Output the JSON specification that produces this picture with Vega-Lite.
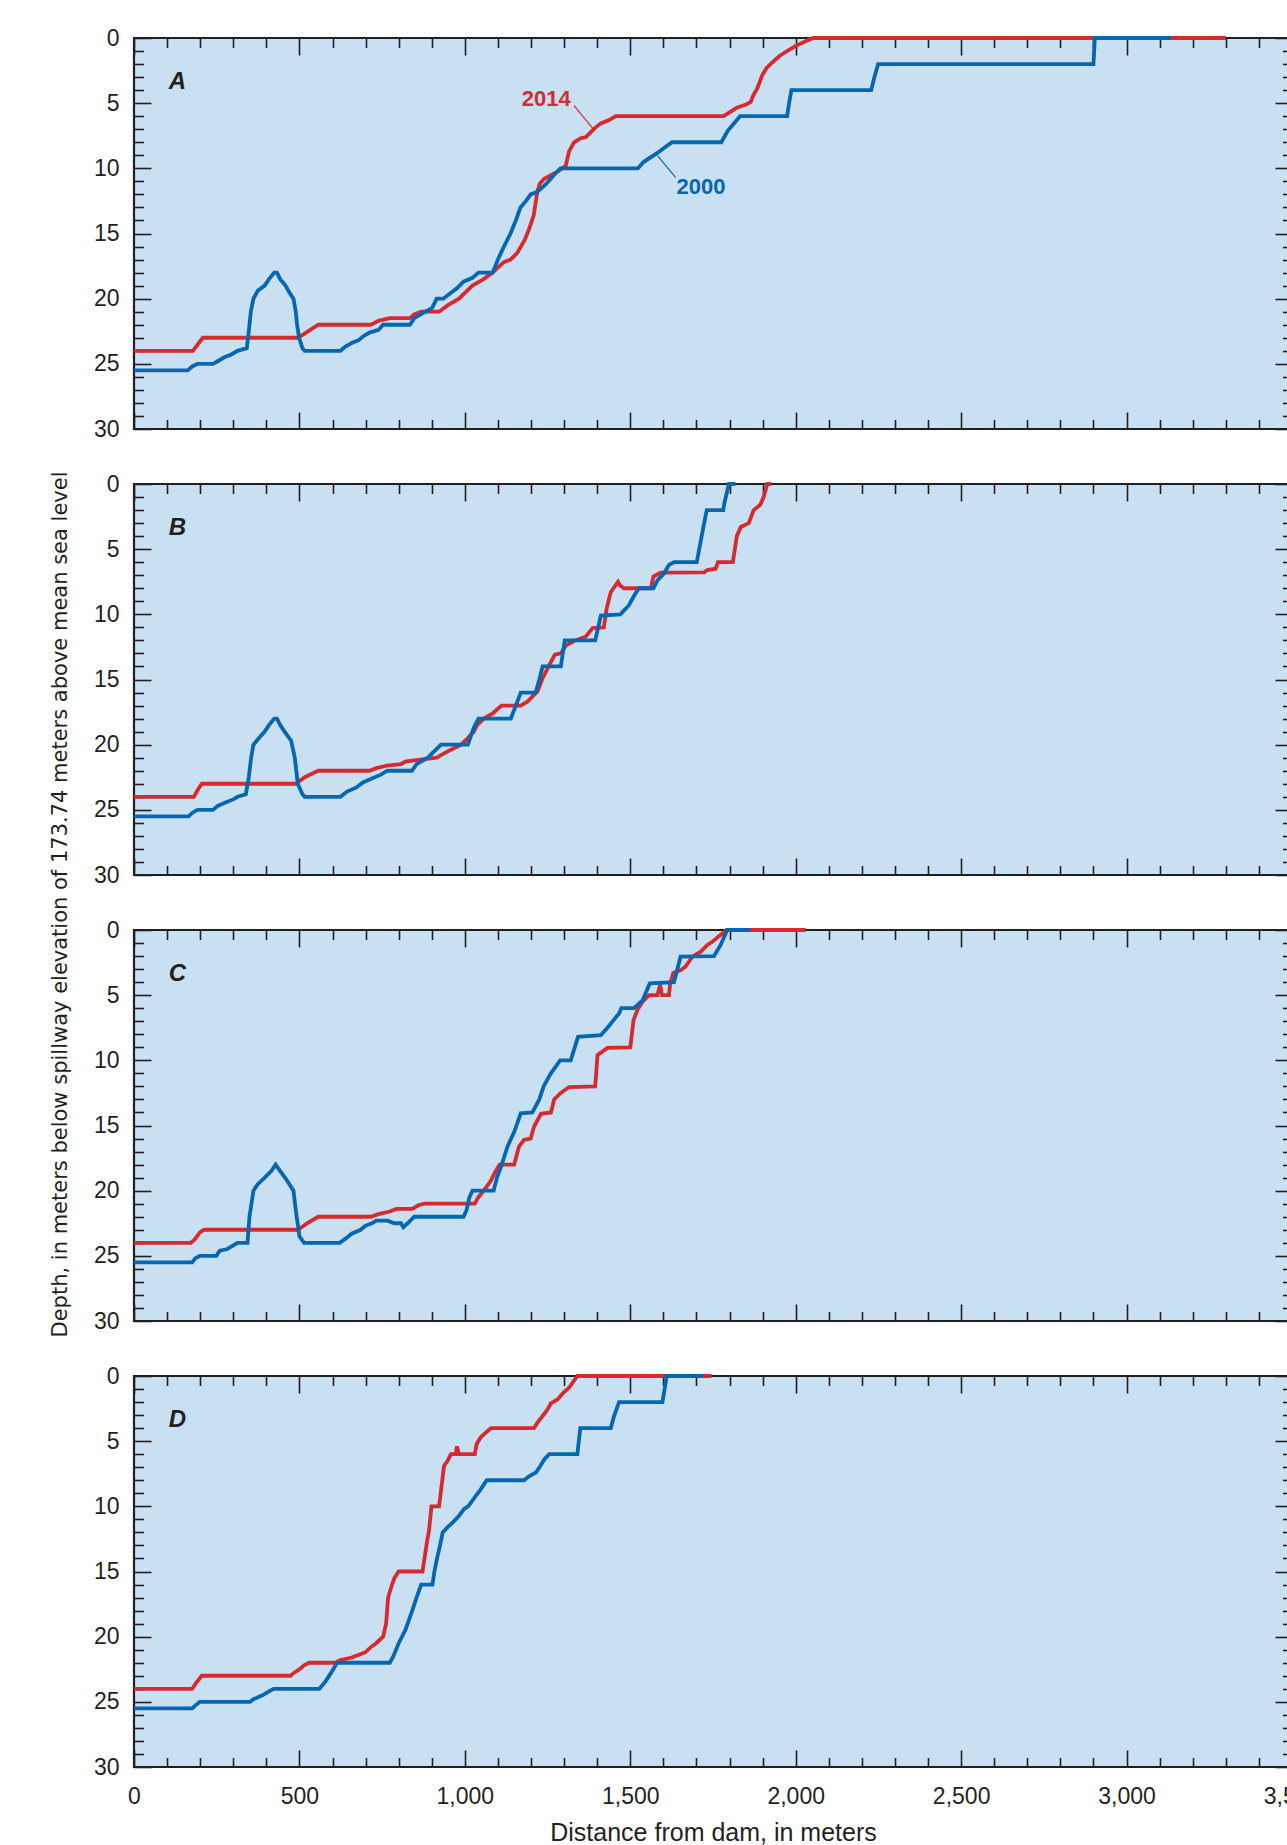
{
"$schema": "https://vega.github.io/schema/vega-lite/v6.json",
"background": "white",
"padding": {"left": 47, "top": 25, "right": 0, "bottom": 0},
"spacing": 55,
"bounds": "flush",
"config": {
  "view": {"fill": "#c9e0f3", "stroke": "#231f20", "strokeWidth": 2.2},
  "axis": {"domain": false, "grid": false, "tickColor": "#231f20", "tickWidth": 1.6, "labelFont": "Liberation Sans", "labelFontSize": 23, "labelColor": "#231f20", "labelOverlap": false, "labelFlush": false, "titleColor": "#231f20", "titleFontWeight": "normal"}
},
"datasets": {
"letters": [{"p":"A","x":131,"d":3.4},{"p":"B","x":131,"d":3.4},{"p":"C","x":131,"d":3.4},{"p":"D","x":131,"d":3.4}],
"notes": [{"s":"2014","x":1246,"d":4.7,"x1":1330,"d1":5.18,"x2":1386,"d2":6.92},{"s":"2000","x":1714,"d":11.45,"x1":1582,"d1":9.02,"x2":1637,"d2":10.7}],
"lines": [
{"p":"A","s":"2014","x":0,"d":24},{"p":"A","s":"2014","x":178,"d":24},{"p":"A","s":"2014","x":208,"d":23},{"p":"A","s":"2014","x":496,"d":23},{"p":"A","s":"2014","x":557,"d":22},{"p":"A","s":"2014","x":716,"d":22},{"p":"A","s":"2014","x":739,"d":21.7},{"p":"A","s":"2014","x":773,"d":21.5},{"p":"A","s":"2014","x":834,"d":21.5},{"p":"A","s":"2014","x":847,"d":21.2},{"p":"A","s":"2014","x":868,"d":21},{"p":"A","s":"2014","x":922,"d":21},{"p":"A","s":"2014","x":949,"d":20.5},{"p":"A","s":"2014","x":982,"d":20},{"p":"A","s":"2014","x":1023,"d":19},{"p":"A","s":"2014","x":1057,"d":18.5},{"p":"A","s":"2014","x":1084,"d":18},{"p":"A","s":"2014","x":1118,"d":17.2},{"p":"A","s":"2014","x":1138,"d":17},{"p":"A","s":"2014","x":1158,"d":16.5},{"p":"A","s":"2014","x":1181,"d":15.5},{"p":"A","s":"2014","x":1195,"d":14.6},{"p":"A","s":"2014","x":1208,"d":13.6},{"p":"A","s":"2014","x":1219,"d":11.8},{"p":"A","s":"2014","x":1226,"d":11.2},{"p":"A","s":"2014","x":1240,"d":10.8},{"p":"A","s":"2014","x":1280,"d":10.25},{"p":"A","s":"2014","x":1305,"d":9.8},{"p":"A","s":"2014","x":1315,"d":8.7},{"p":"A","s":"2014","x":1330,"d":8},{"p":"A","s":"2014","x":1350,"d":7.7},{"p":"A","s":"2014","x":1366,"d":7.6},{"p":"A","s":"2014","x":1391,"d":6.95},{"p":"A","s":"2014","x":1411,"d":6.55},{"p":"A","s":"2014","x":1436,"d":6.3},{"p":"A","s":"2014","x":1456,"d":6},{"p":"A","s":"2014","x":1782,"d":6},{"p":"A","s":"2014","x":1800,"d":5.7},{"p":"A","s":"2014","x":1822,"d":5.35},{"p":"A","s":"2014","x":1850,"d":5.1},{"p":"A","s":"2014","x":1864,"d":4.9},{"p":"A","s":"2014","x":1872,"d":4.4},{"p":"A","s":"2014","x":1884,"d":3.85},{"p":"A","s":"2014","x":1899,"d":2.85},{"p":"A","s":"2014","x":1912,"d":2.3},{"p":"A","s":"2014","x":1928,"d":1.9},{"p":"A","s":"2014","x":1950,"d":1.4},{"p":"A","s":"2014","x":1974,"d":1},{"p":"A","s":"2014","x":2000,"d":0.6},{"p":"A","s":"2014","x":2030,"d":0.25},{"p":"A","s":"2014","x":2053,"d":0},{"p":"A","s":"2014","x":3300,"d":0},
{"p":"A","s":"2000","x":0,"d":25.5},{"p":"A","s":"2000","x":162,"d":25.5},{"p":"A","s":"2000","x":176,"d":25.2},{"p":"A","s":"2000","x":192,"d":25},{"p":"A","s":"2000","x":239,"d":25},{"p":"A","s":"2000","x":253,"d":24.8},{"p":"A","s":"2000","x":273,"d":24.5},{"p":"A","s":"2000","x":293,"d":24.3},{"p":"A","s":"2000","x":313,"d":24},{"p":"A","s":"2000","x":341,"d":23.8},{"p":"A","s":"2000","x":347,"d":22.5},{"p":"A","s":"2000","x":353,"d":21},{"p":"A","s":"2000","x":361,"d":20},{"p":"A","s":"2000","x":374,"d":19.4},{"p":"A","s":"2000","x":395,"d":19},{"p":"A","s":"2000","x":408,"d":18.5},{"p":"A","s":"2000","x":424,"d":18},{"p":"A","s":"2000","x":432,"d":18},{"p":"A","s":"2000","x":442,"d":18.5},{"p":"A","s":"2000","x":458,"d":19},{"p":"A","s":"2000","x":469,"d":19.5},{"p":"A","s":"2000","x":482,"d":20},{"p":"A","s":"2000","x":489,"d":21},{"p":"A","s":"2000","x":493,"d":22},{"p":"A","s":"2000","x":499,"d":23},{"p":"A","s":"2000","x":509,"d":23.8},{"p":"A","s":"2000","x":516,"d":24},{"p":"A","s":"2000","x":624,"d":24},{"p":"A","s":"2000","x":638,"d":23.7},{"p":"A","s":"2000","x":658,"d":23.4},{"p":"A","s":"2000","x":678,"d":23.2},{"p":"A","s":"2000","x":692,"d":22.9},{"p":"A","s":"2000","x":712,"d":22.6},{"p":"A","s":"2000","x":739,"d":22.4},{"p":"A","s":"2000","x":753,"d":22},{"p":"A","s":"2000","x":834,"d":22},{"p":"A","s":"2000","x":847,"d":21.5},{"p":"A","s":"2000","x":881,"d":21},{"p":"A","s":"2000","x":901,"d":20.7},{"p":"A","s":"2000","x":915,"d":20},{"p":"A","s":"2000","x":935,"d":20},{"p":"A","s":"2000","x":955,"d":19.6},{"p":"A","s":"2000","x":976,"d":19.2},{"p":"A","s":"2000","x":996,"d":18.7},{"p":"A","s":"2000","x":1023,"d":18.4},{"p":"A","s":"2000","x":1041,"d":18},{"p":"A","s":"2000","x":1084,"d":18},{"p":"A","s":"2000","x":1100,"d":17},{"p":"A","s":"2000","x":1118,"d":16},{"p":"A","s":"2000","x":1138,"d":15},{"p":"A","s":"2000","x":1154,"d":14},{"p":"A","s":"2000","x":1168,"d":13},{"p":"A","s":"2000","x":1185,"d":12.5},{"p":"A","s":"2000","x":1199,"d":12},{"p":"A","s":"2000","x":1219,"d":11.8},{"p":"A","s":"2000","x":1246,"d":11.2},{"p":"A","s":"2000","x":1266,"d":10.6},{"p":"A","s":"2000","x":1289,"d":10},{"p":"A","s":"2000","x":1523,"d":10},{"p":"A","s":"2000","x":1541,"d":9.5},{"p":"A","s":"2000","x":1583,"d":8.8},{"p":"A","s":"2000","x":1626,"d":8},{"p":"A","s":"2000","x":1775,"d":8},{"p":"A","s":"2000","x":1795,"d":7.1},{"p":"A","s":"2000","x":1832,"d":6},{"p":"A","s":"2000","x":1974,"d":6},{"p":"A","s":"2000","x":1980,"d":5},{"p":"A","s":"2000","x":1987,"d":4},{"p":"A","s":"2000","x":2228,"d":4},{"p":"A","s":"2000","x":2238,"d":3},{"p":"A","s":"2000","x":2249,"d":2},{"p":"A","s":"2000","x":2900,"d":2},{"p":"A","s":"2000","x":2902,"d":1},{"p":"A","s":"2000","x":2904,"d":0},{"p":"A","s":"2000","x":3133,"d":0},
{"p":"B","s":"2014","x":0,"d":24},{"p":"B","s":"2014","x":181,"d":24},{"p":"B","s":"2014","x":192,"d":23.5},{"p":"B","s":"2014","x":205,"d":23},{"p":"B","s":"2014","x":489,"d":23},{"p":"B","s":"2014","x":516,"d":22.5},{"p":"B","s":"2014","x":557,"d":22},{"p":"B","s":"2014","x":712,"d":22},{"p":"B","s":"2014","x":732,"d":21.8},{"p":"B","s":"2014","x":766,"d":21.6},{"p":"B","s":"2014","x":807,"d":21.5},{"p":"B","s":"2014","x":820,"d":21.3},{"p":"B","s":"2014","x":847,"d":21.2},{"p":"B","s":"2014","x":915,"d":21},{"p":"B","s":"2014","x":949,"d":20.5},{"p":"B","s":"2014","x":989,"d":20},{"p":"B","s":"2014","x":1009,"d":19.5},{"p":"B","s":"2014","x":1027,"d":19},{"p":"B","s":"2014","x":1037,"d":18.5},{"p":"B","s":"2014","x":1057,"d":18},{"p":"B","s":"2014","x":1084,"d":17.6},{"p":"B","s":"2014","x":1097,"d":17.3},{"p":"B","s":"2014","x":1111,"d":17},{"p":"B","s":"2014","x":1169,"d":17},{"p":"B","s":"2014","x":1189,"d":16.7},{"p":"B","s":"2014","x":1220,"d":15.9},{"p":"B","s":"2014","x":1235,"d":14.9},{"p":"B","s":"2014","x":1255,"d":13.9},{"p":"B","s":"2014","x":1272,"d":13.1},{"p":"B","s":"2014","x":1290,"d":13},{"p":"B","s":"2014","x":1305,"d":12.4},{"p":"B","s":"2014","x":1334,"d":12},{"p":"B","s":"2014","x":1366,"d":11.7},{"p":"B","s":"2014","x":1386,"d":11.05},{"p":"B","s":"2014","x":1420,"d":11},{"p":"B","s":"2014","x":1429,"d":9.5},{"p":"B","s":"2014","x":1441,"d":8.3},{"p":"B","s":"2014","x":1456,"d":7.75},{"p":"B","s":"2014","x":1463,"d":7.5},{"p":"B","s":"2014","x":1470,"d":7.8},{"p":"B","s":"2014","x":1481,"d":8},{"p":"B","s":"2014","x":1562,"d":8},{"p":"B","s":"2014","x":1570,"d":7.1},{"p":"B","s":"2014","x":1592,"d":6.8},{"p":"B","s":"2014","x":1723,"d":6.78},{"p":"B","s":"2014","x":1733,"d":6.6},{"p":"B","s":"2014","x":1758,"d":6.5},{"p":"B","s":"2014","x":1765,"d":6},{"p":"B","s":"2014","x":1810,"d":6},{"p":"B","s":"2014","x":1822,"d":4},{"p":"B","s":"2014","x":1834,"d":3.3},{"p":"B","s":"2014","x":1858,"d":3},{"p":"B","s":"2014","x":1873,"d":2},{"p":"B","s":"2014","x":1893,"d":1.6},{"p":"B","s":"2014","x":1903,"d":1},{"p":"B","s":"2014","x":1914,"d":0},{"p":"B","s":"2014","x":1926,"d":0},
{"p":"B","s":"2000","x":0,"d":25.5},{"p":"B","s":"2000","x":165,"d":25.5},{"p":"B","s":"2000","x":178,"d":25.2},{"p":"B","s":"2000","x":192,"d":25},{"p":"B","s":"2000","x":239,"d":25},{"p":"B","s":"2000","x":253,"d":24.7},{"p":"B","s":"2000","x":280,"d":24.4},{"p":"B","s":"2000","x":300,"d":24.2},{"p":"B","s":"2000","x":313,"d":24},{"p":"B","s":"2000","x":338,"d":23.8},{"p":"B","s":"2000","x":347,"d":22.5},{"p":"B","s":"2000","x":354,"d":21},{"p":"B","s":"2000","x":361,"d":20},{"p":"B","s":"2000","x":381,"d":19.4},{"p":"B","s":"2000","x":395,"d":19},{"p":"B","s":"2000","x":408,"d":18.5},{"p":"B","s":"2000","x":424,"d":18},{"p":"B","s":"2000","x":432,"d":18},{"p":"B","s":"2000","x":442,"d":18.5},{"p":"B","s":"2000","x":455,"d":19},{"p":"B","s":"2000","x":475,"d":19.7},{"p":"B","s":"2000","x":486,"d":21},{"p":"B","s":"2000","x":495,"d":23},{"p":"B","s":"2000","x":509,"d":23.8},{"p":"B","s":"2000","x":516,"d":24},{"p":"B","s":"2000","x":624,"d":24},{"p":"B","s":"2000","x":644,"d":23.6},{"p":"B","s":"2000","x":671,"d":23.3},{"p":"B","s":"2000","x":692,"d":22.9},{"p":"B","s":"2000","x":719,"d":22.6},{"p":"B","s":"2000","x":746,"d":22.3},{"p":"B","s":"2000","x":766,"d":22},{"p":"B","s":"2000","x":840,"d":22},{"p":"B","s":"2000","x":854,"d":21.5},{"p":"B","s":"2000","x":888,"d":21},{"p":"B","s":"2000","x":908,"d":20.5},{"p":"B","s":"2000","x":928,"d":20},{"p":"B","s":"2000","x":1009,"d":20},{"p":"B","s":"2000","x":1016,"d":19.5},{"p":"B","s":"2000","x":1027,"d":18.7},{"p":"B","s":"2000","x":1041,"d":18},{"p":"B","s":"2000","x":1139,"d":18},{"p":"B","s":"2000","x":1151,"d":17.2},{"p":"B","s":"2000","x":1169,"d":16},{"p":"B","s":"2000","x":1214,"d":16},{"p":"B","s":"2000","x":1225,"d":15},{"p":"B","s":"2000","x":1235,"d":14},{"p":"B","s":"2000","x":1290,"d":14},{"p":"B","s":"2000","x":1302,"d":12},{"p":"B","s":"2000","x":1394,"d":12},{"p":"B","s":"2000","x":1411,"d":10.1},{"p":"B","s":"2000","x":1470,"d":10},{"p":"B","s":"2000","x":1496,"d":9.3},{"p":"B","s":"2000","x":1511,"d":8.6},{"p":"B","s":"2000","x":1526,"d":8},{"p":"B","s":"2000","x":1570,"d":8},{"p":"B","s":"2000","x":1582,"d":7.4},{"p":"B","s":"2000","x":1602,"d":6.85},{"p":"B","s":"2000","x":1617,"d":6.2},{"p":"B","s":"2000","x":1632,"d":6},{"p":"B","s":"2000","x":1701,"d":6},{"p":"B","s":"2000","x":1718,"d":3.7},{"p":"B","s":"2000","x":1731,"d":2},{"p":"B","s":"2000","x":1781,"d":2},{"p":"B","s":"2000","x":1785,"d":1.4},{"p":"B","s":"2000","x":1798,"d":0},{"p":"B","s":"2000","x":1818,"d":0},
{"p":"C","s":"2014","x":0,"d":24},{"p":"C","s":"2014","x":172,"d":24},{"p":"C","s":"2014","x":185,"d":23.7},{"p":"C","s":"2014","x":199,"d":23.2},{"p":"C","s":"2014","x":212,"d":23},{"p":"C","s":"2014","x":496,"d":23},{"p":"C","s":"2014","x":523,"d":22.5},{"p":"C","s":"2014","x":557,"d":22},{"p":"C","s":"2014","x":716,"d":22},{"p":"C","s":"2014","x":739,"d":21.8},{"p":"C","s":"2014","x":773,"d":21.6},{"p":"C","s":"2014","x":793,"d":21.4},{"p":"C","s":"2014","x":841,"d":21.4},{"p":"C","s":"2014","x":861,"d":21.1},{"p":"C","s":"2014","x":879,"d":21},{"p":"C","s":"2014","x":1030,"d":21},{"p":"C","s":"2014","x":1041,"d":20.5},{"p":"C","s":"2014","x":1057,"d":20},{"p":"C","s":"2014","x":1077,"d":19.3},{"p":"C","s":"2014","x":1091,"d":18.6},{"p":"C","s":"2014","x":1105,"d":18},{"p":"C","s":"2014","x":1149,"d":18},{"p":"C","s":"2014","x":1164,"d":16.6},{"p":"C","s":"2014","x":1179,"d":16.1},{"p":"C","s":"2014","x":1199,"d":16},{"p":"C","s":"2014","x":1209,"d":15.1},{"p":"C","s":"2014","x":1230,"d":14.1},{"p":"C","s":"2014","x":1260,"d":14},{"p":"C","s":"2014","x":1270,"d":13},{"p":"C","s":"2014","x":1290,"d":12.5},{"p":"C","s":"2014","x":1315,"d":12.05},{"p":"C","s":"2014","x":1394,"d":12},{"p":"C","s":"2014","x":1401,"d":9.6},{"p":"C","s":"2014","x":1431,"d":9.05},{"p":"C","s":"2014","x":1500,"d":9},{"p":"C","s":"2014","x":1510,"d":6.9},{"p":"C","s":"2014","x":1522,"d":6.1},{"p":"C","s":"2014","x":1537,"d":5.5},{"p":"C","s":"2014","x":1557,"d":5},{"p":"C","s":"2014","x":1582,"d":5},{"p":"C","s":"2014","x":1590,"d":4.2},{"p":"C","s":"2014","x":1596,"d":5},{"p":"C","s":"2014","x":1617,"d":5},{"p":"C","s":"2014","x":1620,"d":4.2},{"p":"C","s":"2014","x":1630,"d":3.3},{"p":"C","s":"2014","x":1652,"d":3.1},{"p":"C","s":"2014","x":1667,"d":2.8},{"p":"C","s":"2014","x":1688,"d":2.05},{"p":"C","s":"2014","x":1713,"d":1.66},{"p":"C","s":"2014","x":1733,"d":1.15},{"p":"C","s":"2014","x":1748,"d":0.9},{"p":"C","s":"2014","x":1791,"d":0},{"p":"C","s":"2014","x":2030,"d":0},
{"p":"C","s":"2000","x":0,"d":25.5},{"p":"C","s":"2000","x":176,"d":25.5},{"p":"C","s":"2000","x":185,"d":25.2},{"p":"C","s":"2000","x":199,"d":25},{"p":"C","s":"2000","x":249,"d":25},{"p":"C","s":"2000","x":259,"d":24.6},{"p":"C","s":"2000","x":280,"d":24.5},{"p":"C","s":"2000","x":300,"d":24.2},{"p":"C","s":"2000","x":313,"d":24},{"p":"C","s":"2000","x":343,"d":24},{"p":"C","s":"2000","x":349,"d":22},{"p":"C","s":"2000","x":355,"d":21},{"p":"C","s":"2000","x":361,"d":20},{"p":"C","s":"2000","x":374,"d":19.5},{"p":"C","s":"2000","x":395,"d":19},{"p":"C","s":"2000","x":415,"d":18.5},{"p":"C","s":"2000","x":428,"d":18},{"p":"C","s":"2000","x":442,"d":18.5},{"p":"C","s":"2000","x":462,"d":19.2},{"p":"C","s":"2000","x":482,"d":20},{"p":"C","s":"2000","x":489,"d":21.5},{"p":"C","s":"2000","x":500,"d":23.5},{"p":"C","s":"2000","x":514,"d":24},{"p":"C","s":"2000","x":622,"d":24},{"p":"C","s":"2000","x":638,"d":23.7},{"p":"C","s":"2000","x":658,"d":23.3},{"p":"C","s":"2000","x":685,"d":23},{"p":"C","s":"2000","x":699,"d":22.7},{"p":"C","s":"2000","x":719,"d":22.5},{"p":"C","s":"2000","x":732,"d":22.3},{"p":"C","s":"2000","x":766,"d":22.3},{"p":"C","s":"2000","x":787,"d":22.5},{"p":"C","s":"2000","x":807,"d":22.5},{"p":"C","s":"2000","x":814,"d":22.8},{"p":"C","s":"2000","x":827,"d":22.5},{"p":"C","s":"2000","x":847,"d":22},{"p":"C","s":"2000","x":996,"d":22},{"p":"C","s":"2000","x":1005,"d":21.5},{"p":"C","s":"2000","x":1014,"d":20.5},{"p":"C","s":"2000","x":1023,"d":20},{"p":"C","s":"2000","x":1087,"d":20},{"p":"C","s":"2000","x":1097,"d":19},{"p":"C","s":"2000","x":1109,"d":18.2},{"p":"C","s":"2000","x":1129,"d":16.6},{"p":"C","s":"2000","x":1149,"d":15.5},{"p":"C","s":"2000","x":1169,"d":14.07},{"p":"C","s":"2000","x":1204,"d":14},{"p":"C","s":"2000","x":1225,"d":13},{"p":"C","s":"2000","x":1238,"d":12},{"p":"C","s":"2000","x":1260,"d":11},{"p":"C","s":"2000","x":1288,"d":10},{"p":"C","s":"2000","x":1320,"d":10},{"p":"C","s":"2000","x":1342,"d":8.2},{"p":"C","s":"2000","x":1411,"d":8.06},{"p":"C","s":"2000","x":1431,"d":7.5},{"p":"C","s":"2000","x":1466,"d":6.4},{"p":"C","s":"2000","x":1473,"d":6},{"p":"C","s":"2000","x":1511,"d":6},{"p":"C","s":"2000","x":1537,"d":5.4},{"p":"C","s":"2000","x":1559,"d":4.1},{"p":"C","s":"2000","x":1632,"d":4},{"p":"C","s":"2000","x":1652,"d":2.05},{"p":"C","s":"2000","x":1753,"d":2},{"p":"C","s":"2000","x":1773,"d":1.15},{"p":"C","s":"2000","x":1793,"d":0},{"p":"C","s":"2000","x":1864,"d":0},
{"p":"D","s":"2014","x":0,"d":24},{"p":"D","s":"2014","x":176,"d":24},{"p":"D","s":"2014","x":189,"d":23.5},{"p":"D","s":"2014","x":205,"d":23},{"p":"D","s":"2014","x":473,"d":23},{"p":"D","s":"2014","x":482,"d":22.8},{"p":"D","s":"2014","x":500,"d":22.5},{"p":"D","s":"2014","x":514,"d":22.2},{"p":"D","s":"2014","x":530,"d":22},{"p":"D","s":"2014","x":608,"d":22},{"p":"D","s":"2014","x":624,"d":21.8},{"p":"D","s":"2014","x":658,"d":21.6},{"p":"D","s":"2014","x":678,"d":21.4},{"p":"D","s":"2014","x":699,"d":21.2},{"p":"D","s":"2014","x":716,"d":20.8},{"p":"D","s":"2014","x":732,"d":20.5},{"p":"D","s":"2014","x":753,"d":20},{"p":"D","s":"2014","x":762,"d":19},{"p":"D","s":"2014","x":768,"d":17},{"p":"D","s":"2014","x":780,"d":16},{"p":"D","s":"2014","x":787,"d":15.5},{"p":"D","s":"2014","x":800,"d":15},{"p":"D","s":"2014","x":872,"d":15},{"p":"D","s":"2014","x":878,"d":14},{"p":"D","s":"2014","x":885,"d":12.8},{"p":"D","s":"2014","x":892,"d":11.8},{"p":"D","s":"2014","x":899,"d":10},{"p":"D","s":"2014","x":922,"d":10},{"p":"D","s":"2014","x":927,"d":9},{"p":"D","s":"2014","x":937,"d":6.9},{"p":"D","s":"2014","x":948,"d":6.5},{"p":"D","s":"2014","x":958,"d":6},{"p":"D","s":"2014","x":972,"d":6},{"p":"D","s":"2014","x":976,"d":5.4},{"p":"D","s":"2014","x":982,"d":6},{"p":"D","s":"2014","x":1030,"d":6},{"p":"D","s":"2014","x":1036,"d":5.2},{"p":"D","s":"2014","x":1048,"d":4.7},{"p":"D","s":"2014","x":1063,"d":4.35},{"p":"D","s":"2014","x":1079,"d":4},{"p":"D","s":"2014","x":1209,"d":4},{"p":"D","s":"2014","x":1219,"d":3.6},{"p":"D","s":"2014","x":1235,"d":3.07},{"p":"D","s":"2014","x":1250,"d":2.56},{"p":"D","s":"2014","x":1260,"d":2.1},{"p":"D","s":"2014","x":1280,"d":1.8},{"p":"D","s":"2014","x":1298,"d":1.28},{"p":"D","s":"2014","x":1315,"d":0.9},{"p":"D","s":"2014","x":1340,"d":0},{"p":"D","s":"2014","x":1745,"d":0},
{"p":"D","s":"2000","x":0,"d":25.5},{"p":"D","s":"2000","x":176,"d":25.5},{"p":"D","s":"2000","x":189,"d":25.2},{"p":"D","s":"2000","x":199,"d":25},{"p":"D","s":"2000","x":351,"d":25},{"p":"D","s":"2000","x":361,"d":24.8},{"p":"D","s":"2000","x":388,"d":24.5},{"p":"D","s":"2000","x":408,"d":24.2},{"p":"D","s":"2000","x":422,"d":24},{"p":"D","s":"2000","x":560,"d":24},{"p":"D","s":"2000","x":577,"d":23.5},{"p":"D","s":"2000","x":595,"d":22.8},{"p":"D","s":"2000","x":614,"d":22},{"p":"D","s":"2000","x":773,"d":22},{"p":"D","s":"2000","x":784,"d":21.5},{"p":"D","s":"2000","x":800,"d":20.5},{"p":"D","s":"2000","x":820,"d":19.5},{"p":"D","s":"2000","x":841,"d":18},{"p":"D","s":"2000","x":854,"d":17},{"p":"D","s":"2000","x":868,"d":16},{"p":"D","s":"2000","x":902,"d":16},{"p":"D","s":"2000","x":908,"d":15},{"p":"D","s":"2000","x":915,"d":14.1},{"p":"D","s":"2000","x":925,"d":13},{"p":"D","s":"2000","x":933,"d":12},{"p":"D","s":"2000","x":948,"d":11.6},{"p":"D","s":"2000","x":963,"d":11.25},{"p":"D","s":"2000","x":983,"d":10.7},{"p":"D","s":"2000","x":998,"d":10.2},{"p":"D","s":"2000","x":1010,"d":10},{"p":"D","s":"2000","x":1033,"d":9.2},{"p":"D","s":"2000","x":1048,"d":8.7},{"p":"D","s":"2000","x":1066,"d":8},{"p":"D","s":"2000","x":1179,"d":8},{"p":"D","s":"2000","x":1194,"d":7.7},{"p":"D","s":"2000","x":1215,"d":7.4},{"p":"D","s":"2000","x":1228,"d":6.9},{"p":"D","s":"2000","x":1240,"d":6.4},{"p":"D","s":"2000","x":1255,"d":6},{"p":"D","s":"2000","x":1340,"d":6},{"p":"D","s":"2000","x":1349,"d":4},{"p":"D","s":"2000","x":1441,"d":4},{"p":"D","s":"2000","x":1451,"d":3.07},{"p":"D","s":"2000","x":1466,"d":2},{"p":"D","s":"2000","x":1597,"d":2},{"p":"D","s":"2000","x":1602,"d":1.3},{"p":"D","s":"2000","x":1610,"d":0},{"p":"D","s":"2000","x":1720,"d":0}
]
},
"vconcat": [
{
 "width": 1158, "height": 391,
 "layer": [
  {"data": {"name": "lines"}, "transform": [{"filter": "datum.p === 'A' && datum.s === '2014'"}],
   "mark": {"type": "line", "color": "#d62a2f", "strokeWidth": 3.8},
   "encoding": {
    "x": {"field": "x", "type": "quantitative", "scale": {"domain": [0, 3500], "nice": false, "zero": false},
      "axis": {"orient": "bottom", "values": [0,100,200,300,400,500,600,700,800,900,1000,1100,1200,1300,1400,1500,1600,1700,1800,1900,2000,2100,2200,2300,2400,2500,2600,2700,2800,2900,3000,3100,3200,3300,3400,3500], "tickSize": {"condition": {"test": "datum.value % 500 === 0", "value": -17}, "value": -9.5}, "labels": false, "title": null}},
    "y": {"field": "d", "type": "quantitative", "scale": {"domain": [0, 30], "reverse": true, "nice": false},
      "axis": {"orient": "left", "values": [0,1,2,3,4,5,6,7,8,9,10,11,12,13,14,15,16,17,18,19,20,21,22,23,24,25,26,27,28,29,30], "tickSize": {"condition": {"test": "datum.value % 5 === 0", "value": -17}, "value": -9.5}, "labelExpr": "datum.value % 5 === 0 ? datum.label : ''", "labelPadding": 32, "format": "d", "title": null}}
   }},
  {"data": {"name": "lines"}, "transform": [{"filter": "datum.p === 'A' && datum.s === '2000'"}],
   "mark": {"type": "line", "color": "#0567b2", "strokeWidth": 3.8},
   "encoding": {"x": {"field": "x", "type": "quantitative", "axis": null}, "y": {"field": "d", "type": "quantitative", "axis": null}}},
  {"data": {"name": "notes"},
   "mark": {"type": "rule", "strokeWidth": 1.2},
   "encoding": {"x": {"field": "x1", "type": "quantitative", "axis": null}, "y": {"field": "d1", "type": "quantitative", "axis": null}, "x2": {"field": "x2"}, "y2": {"field": "d2"},
     "color": {"field": "s", "type": "nominal", "scale": {"domain": ["2000", "2014"], "range": ["#0567b2", "#d62a2f"]}, "legend": null}}},
  {"data": {"name": "notes"},
   "mark": {"type": "text", "font": "Liberation Sans", "fontSize": 22, "fontWeight": "bold"},
   "encoding": {"x": {"field": "x", "type": "quantitative", "axis": null}, "y": {"field": "d", "type": "quantitative", "axis": null}, "text": {"field": "s"},
     "color": {"field": "s", "type": "nominal", "legend": null}}},
  {"data": {"name": "letters"}, "transform": [{"filter": "datum.p === 'A'"}],
   "mark": {"type": "text", "font": "Liberation Sans", "fontSize": 24, "fontWeight": "bold", "fontStyle": "italic", "color": "#231f20"},
   "encoding": {
    "x": {"field": "x", "type": "quantitative", "axis": {"orient": "top", "values": [0,100,200,300,400,500,600,700,800,900,1000,1100,1200,1300,1400,1500,1600,1700,1800,1900,2000,2100,2200,2300,2400,2500,2600,2700,2800,2900,3000,3100,3200,3300,3400,3500], "tickSize": {"condition": {"test": "datum.value % 500 === 0", "value": -17}, "value": -9.5}, "labels": false, "title": null}},
    "y": {"field": "d", "type": "quantitative", "axis": {"orient": "right", "values": [0,1,2,3,4,5,6,7,8,9,10,11,12,13,14,15,16,17,18,19,20,21,22,23,24,25,26,27,28,29,30], "tickSize": {"condition": {"test": "datum.value % 5 === 0", "value": -17}, "value": -9.5}, "labels": false, "title": null}},
    "text": {"field": "p"}}}
 ],
 "resolve": {"axis": {"x": "independent", "y": "independent"}}
},
{
 "width": 1158, "height": 391,
 "layer": [
  {"data": {"name": "lines"}, "transform": [{"filter": "datum.p === 'B' && datum.s === '2014'"}],
   "mark": {"type": "line", "color": "#d62a2f", "strokeWidth": 3.8},
   "encoding": {
    "x": {"field": "x", "type": "quantitative", "scale": {"domain": [0, 3500], "nice": false, "zero": false},
      "axis": {"orient": "bottom", "values": [0,100,200,300,400,500,600,700,800,900,1000,1100,1200,1300,1400,1500,1600,1700,1800,1900,2000,2100,2200,2300,2400,2500,2600,2700,2800,2900,3000,3100,3200,3300,3400,3500], "tickSize": {"condition": {"test": "datum.value % 500 === 0", "value": -17}, "value": -9.5}, "labels": false, "title": null}},
    "y": {"field": "d", "type": "quantitative", "scale": {"domain": [0, 30], "reverse": true, "nice": false},
      "axis": {"orient": "left", "values": [0,1,2,3,4,5,6,7,8,9,10,11,12,13,14,15,16,17,18,19,20,21,22,23,24,25,26,27,28,29,30], "tickSize": {"condition": {"test": "datum.value % 5 === 0", "value": -17}, "value": -9.5}, "labelExpr": "datum.value % 5 === 0 ? datum.label : ''", "labelPadding": 32, "format": "d",
        "title": "Depth, in meters below spillway elevation of 173.74 meters above mean sea level", "titleFont": "DejaVu Sans", "titleFontSize": 21, "titleX": -74, "titleY": 420, "titleBaseline": "middle", "titleAngle": 270, "titleAlign": "center"}}
   }},
  {"data": {"name": "lines"}, "transform": [{"filter": "datum.p === 'B' && datum.s === '2000'"}],
   "mark": {"type": "line", "color": "#0567b2", "strokeWidth": 3.8},
   "encoding": {"x": {"field": "x", "type": "quantitative", "axis": null}, "y": {"field": "d", "type": "quantitative", "axis": null}}},
  {"data": {"name": "letters"}, "transform": [{"filter": "datum.p === 'B'"}],
   "mark": {"type": "text", "font": "Liberation Sans", "fontSize": 24, "fontWeight": "bold", "fontStyle": "italic", "color": "#231f20"},
   "encoding": {
    "x": {"field": "x", "type": "quantitative", "axis": {"orient": "top", "values": [0,100,200,300,400,500,600,700,800,900,1000,1100,1200,1300,1400,1500,1600,1700,1800,1900,2000,2100,2200,2300,2400,2500,2600,2700,2800,2900,3000,3100,3200,3300,3400,3500], "tickSize": {"condition": {"test": "datum.value % 500 === 0", "value": -17}, "value": -9.5}, "labels": false, "title": null}},
    "y": {"field": "d", "type": "quantitative", "axis": {"orient": "right", "values": [0,1,2,3,4,5,6,7,8,9,10,11,12,13,14,15,16,17,18,19,20,21,22,23,24,25,26,27,28,29,30], "tickSize": {"condition": {"test": "datum.value % 5 === 0", "value": -17}, "value": -9.5}, "labels": false, "title": null}},
    "text": {"field": "p"}}}
 ],
 "resolve": {"axis": {"x": "independent", "y": "independent"}}
},
{
 "width": 1158, "height": 391,
 "layer": [
  {"data": {"name": "lines"}, "transform": [{"filter": "datum.p === 'C' && datum.s === '2014'"}],
   "mark": {"type": "line", "color": "#d62a2f", "strokeWidth": 3.8},
   "encoding": {
    "x": {"field": "x", "type": "quantitative", "scale": {"domain": [0, 3500], "nice": false, "zero": false},
      "axis": {"orient": "bottom", "values": [0,100,200,300,400,500,600,700,800,900,1000,1100,1200,1300,1400,1500,1600,1700,1800,1900,2000,2100,2200,2300,2400,2500,2600,2700,2800,2900,3000,3100,3200,3300,3400,3500], "tickSize": {"condition": {"test": "datum.value % 500 === 0", "value": -17}, "value": -9.5}, "labels": false, "title": null}},
    "y": {"field": "d", "type": "quantitative", "scale": {"domain": [0, 30], "reverse": true, "nice": false},
      "axis": {"orient": "left", "values": [0,1,2,3,4,5,6,7,8,9,10,11,12,13,14,15,16,17,18,19,20,21,22,23,24,25,26,27,28,29,30], "tickSize": {"condition": {"test": "datum.value % 5 === 0", "value": -17}, "value": -9.5}, "labelExpr": "datum.value % 5 === 0 ? datum.label : ''", "labelPadding": 32, "format": "d", "title": null}}
   }},
  {"data": {"name": "lines"}, "transform": [{"filter": "datum.p === 'C' && datum.s === '2000'"}],
   "mark": {"type": "line", "color": "#0567b2", "strokeWidth": 3.8},
   "encoding": {"x": {"field": "x", "type": "quantitative", "axis": null}, "y": {"field": "d", "type": "quantitative", "axis": null}}},
  {"data": {"name": "letters"}, "transform": [{"filter": "datum.p === 'C'"}],
   "mark": {"type": "text", "font": "Liberation Sans", "fontSize": 24, "fontWeight": "bold", "fontStyle": "italic", "color": "#231f20"},
   "encoding": {
    "x": {"field": "x", "type": "quantitative", "axis": {"orient": "top", "values": [0,100,200,300,400,500,600,700,800,900,1000,1100,1200,1300,1400,1500,1600,1700,1800,1900,2000,2100,2200,2300,2400,2500,2600,2700,2800,2900,3000,3100,3200,3300,3400,3500], "tickSize": {"condition": {"test": "datum.value % 500 === 0", "value": -17}, "value": -9.5}, "labels": false, "title": null}},
    "y": {"field": "d", "type": "quantitative", "axis": {"orient": "right", "values": [0,1,2,3,4,5,6,7,8,9,10,11,12,13,14,15,16,17,18,19,20,21,22,23,24,25,26,27,28,29,30], "tickSize": {"condition": {"test": "datum.value % 5 === 0", "value": -17}, "value": -9.5}, "labels": false, "title": null}},
    "text": {"field": "p"}}}
 ],
 "resolve": {"axis": {"x": "independent", "y": "independent"}}
},
{
 "width": 1158, "height": 391,
 "layer": [
  {"data": {"name": "lines"}, "transform": [{"filter": "datum.p === 'D' && datum.s === '2014'"}],
   "mark": {"type": "line", "color": "#d62a2f", "strokeWidth": 3.8},
   "encoding": {
    "x": {"field": "x", "type": "quantitative", "scale": {"domain": [0, 3500], "nice": false, "zero": false},
      "axis": {"orient": "bottom", "values": [0,100,200,300,400,500,600,700,800,900,1000,1100,1200,1300,1400,1500,1600,1700,1800,1900,2000,2100,2200,2300,2400,2500,2600,2700,2800,2900,3000,3100,3200,3300,3400,3500], "tickSize": {"condition": {"test": "datum.value % 500 === 0", "value": -17}, "value": -9.5}, "labelExpr": "datum.value % 500 === 0 ? datum.label : ''", "labelPadding": 35, "format": ",d",
        "title": "Distance from dam, in meters", "titleFont": "Liberation Sans", "titleFontSize": 25, "titlePadding": 5}},
    "y": {"field": "d", "type": "quantitative", "scale": {"domain": [0, 30], "reverse": true, "nice": false},
      "axis": {"orient": "left", "values": [0,1,2,3,4,5,6,7,8,9,10,11,12,13,14,15,16,17,18,19,20,21,22,23,24,25,26,27,28,29,30], "tickSize": {"condition": {"test": "datum.value % 5 === 0", "value": -17}, "value": -9.5}, "labelExpr": "datum.value % 5 === 0 ? datum.label : ''", "labelPadding": 32, "format": "d", "title": null}}
   }},
  {"data": {"name": "lines"}, "transform": [{"filter": "datum.p === 'D' && datum.s === '2000'"}],
   "mark": {"type": "line", "color": "#0567b2", "strokeWidth": 3.8},
   "encoding": {"x": {"field": "x", "type": "quantitative", "axis": null}, "y": {"field": "d", "type": "quantitative", "axis": null}}},
  {"data": {"name": "letters"}, "transform": [{"filter": "datum.p === 'D'"}],
   "mark": {"type": "text", "font": "Liberation Sans", "fontSize": 24, "fontWeight": "bold", "fontStyle": "italic", "color": "#231f20"},
   "encoding": {
    "x": {"field": "x", "type": "quantitative", "axis": {"orient": "top", "values": [0,100,200,300,400,500,600,700,800,900,1000,1100,1200,1300,1400,1500,1600,1700,1800,1900,2000,2100,2200,2300,2400,2500,2600,2700,2800,2900,3000,3100,3200,3300,3400,3500], "tickSize": {"condition": {"test": "datum.value % 500 === 0", "value": -17}, "value": -9.5}, "labels": false, "title": null}},
    "y": {"field": "d", "type": "quantitative", "axis": {"orient": "right", "values": [0,1,2,3,4,5,6,7,8,9,10,11,12,13,14,15,16,17,18,19,20,21,22,23,24,25,26,27,28,29,30], "tickSize": {"condition": {"test": "datum.value % 5 === 0", "value": -17}, "value": -9.5}, "labels": false, "title": null}},
    "text": {"field": "p"}}}
 ],
 "resolve": {"axis": {"x": "independent", "y": "independent"}}
}
]
}
